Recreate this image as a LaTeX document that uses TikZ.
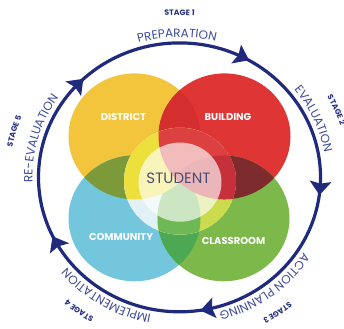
\documentclass[tikz,border=0pt]{standalone}
\usepackage{fontspec}
\setmainfont{Poppins}
\usetikzlibrary{decorations.text}
\definecolor{cY}{RGB}{242,197,61}
\definecolor{cR}{RGB}{223,53,53}
\definecolor{cB}{RGB}{116,198,221}
\definecolor{cG}{RGB}{125,184,74}
\definecolor{cYR}{RGB}{212,46,46}
\definecolor{cYB}{RGB}{124,154,58}
\definecolor{cRG}{RGB}{126,43,46}
\definecolor{cBG}{RGB}{76,168,82}
\definecolor{hY}{RGB}{238,224,60}
\definecolor{hR}{RGB}{221,64,64}
\definecolor{hB}{RGB}{226,241,246}
\definecolor{hG}{RGB}{204,218,78}
\definecolor{hBG}{RGB}{110,185,85}
\definecolor{hRG}{RGB}{198,48,58}
\definecolor{ringc}{RGB}{32,42,124}
\definecolor{labc}{RGB}{62,74,156}
\definecolor{stagec}{RGB}{40,50,130}
\definecolor{studc}{RGB}{75,76,114}
\newcommand\crad{66}
\newcommand\lblfont{\fontsize{12}{13}\selectfont}
\newcommand\stgfont{\fontsize{7.8}{9}\selectfont\bfseries}
\tikzset{
  ring/.style={draw=ringc, line width=3.2pt},
  arrowc/.style={fill=ringc},
  area/.style={font=\fontsize{10}{12}\selectfont\bfseries, text=white},
  curvelabel/.style={decorate, decoration={text along path, text align=center, text color=labc, text={|\lblfont|#1}}},
  stagelabel/.style={decorate, decoration={text along path, text align=center, text color=stagec, text={|\stgfont|#1}}}
}
\begin{document}
\begin{tikzpicture}[x=1pt,y=1pt,yscale=0.9535]
\useasboundingbox (-179.5,-158) rectangle (164.5,186);
\fill[white] (-179.5,-158) rectangle (164.5,186);
\coordinate (cy) at (-45,43);
\coordinate (cr) at (45,43);
\coordinate (cb) at (-45,-43);
\coordinate (cg) at (44,-43);
\coordinate (ch) at (0.5,-4);
\coordinate (cs) at (0.5,-5);
% base circles
\fill[cY] (cy) circle[radius=\crad];
\fill[cR] (cr) circle[radius=\crad];
\fill[cB] (cb) circle[radius=\crad];
\fill[cG] (cg) circle[radius=\crad];
% pairwise overlaps
\begin{scope}\clip (cy) circle[radius=\crad]; \fill[cYR] (cr) circle[radius=\crad];\end{scope}
\begin{scope}\clip (cy) circle[radius=\crad]; \fill[cYB] (cb) circle[radius=\crad];\end{scope}
\begin{scope}\clip (cr) circle[radius=\crad]; \fill[cRG] (cg) circle[radius=\crad];\end{scope}
\begin{scope}\clip (cb) circle[radius=\crad]; \fill[cBG] (cg) circle[radius=\crad];\end{scope}
% halo
\begin{scope}
  \clip (ch) circle[radius=56];
  \fill[hB] (ch) circle[radius=56];
  \fill[hB] (cb) circle[radius=\crad];
  \fill[hG] (cg) circle[radius=\crad];
  \begin{scope}\clip (cb) circle[radius=\crad]; \fill[hBG] (cg) circle[radius=\crad];\end{scope}
  \fill[hY] (cy) circle[radius=\crad];
  \fill[hR] (cr) circle[radius=\crad];
  \begin{scope}\clip (cr) circle[radius=\crad]; \fill[hRG] (cg) circle[radius=\crad];\end{scope}
\end{scope}
% student disc
\fill[white, fill opacity=0.65] (cs) circle[radius=41.5];
% labels
\node[area] (district) at (-56,63.3) {DISTRICT};
\node[area] (building) at (48.5,63.3) {BUILDING};
\node[area] (community) at (-58.5,-62.6) {COMMUNITY};
\node[area] (classroom) at (54,-66.2) {CLASSROOM};
\node[font=\fontsize{15}{16}\selectfont, text=studc] (student) at (-1,-0.7) {STUDENT};
% ring
\draw[ring] (0,0) circle[radius=141];
\foreach \a in {63.5,136,209,281.5,355.5}{
  \fill[arrowc, shift={(\a:141)}, rotate=\a-90] (7.5,0) -- (-7,11) -- (-4.5,0) -- (-7,-11) -- cycle;
}
% curved labels
\path[curvelabel=PREPARATION] (131:147) arc[start angle=131, end angle=51, radius=147];
\path[curvelabel=EVALUATION] (64:147) arc[start angle=64, end angle=-16, radius=147];
\path[curvelabel=ACTION PLANNING] (-8:147) arc[start angle=-8, end angle=-98, radius=147];
\path[curvelabel=IMPLEMENTATION] (-76:147) arc[start angle=-76, end angle=-166, radius=147];
\path[curvelabel=RE-EVALUATION] (204:147) arc[start angle=204, end angle=124, radius=147];
% stage labels
\path[stagelabel=STAGE 1] (120:170) arc[start angle=120, end angle=60, radius=170];
\path[stagelabel=STAGE 2] (54:170) arc[start angle=54, end angle=-6, radius=170];
\path[stagelabel=STAGE 3] (-25:170) arc[start angle=-25, end angle=-85, radius=170];
\path[stagelabel=STAGE 4] (-96:170) arc[start angle=-96, end angle=-156, radius=170];
\path[stagelabel=STAGE 5] (194:170) arc[start angle=194, end angle=134, radius=170];
\end{tikzpicture}
\end{document}
